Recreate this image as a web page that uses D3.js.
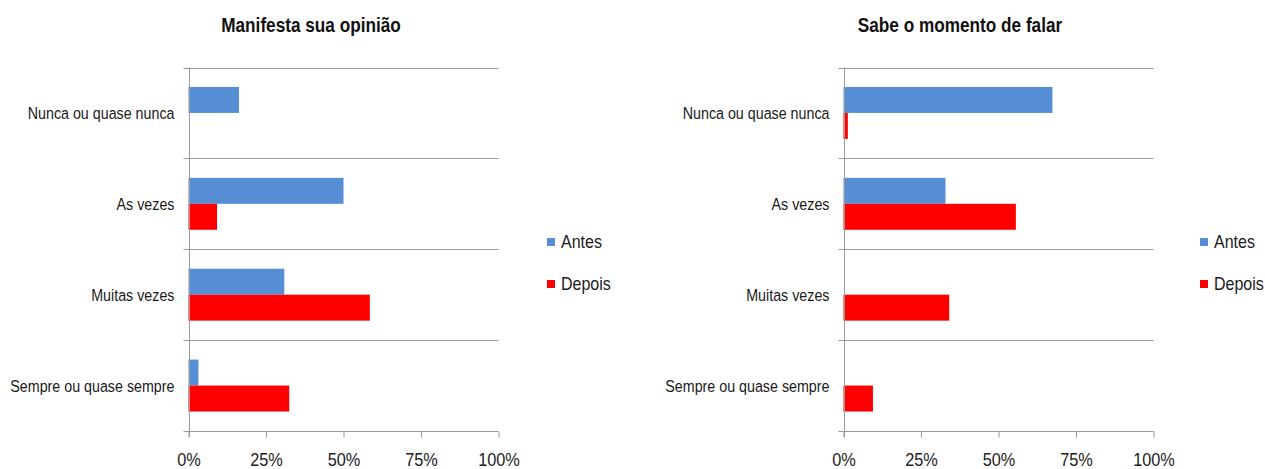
<!DOCTYPE html>
<html>
<head>
<meta charset="utf-8">
<script src="https://cdn.jsdelivr.net/npm/d3@7"></script>
<style>
  html, body { margin: 0; padding: 0; background: #fff; }
  svg { display: block; font-family: "Liberation Sans", Arial, sans-serif; }
</style>
</head>
<body>
<svg id="chart" width="1265" height="469"></svg>
<script>
// ---- data ----
const categories = ["Nunca ou quase nunca", "As vezes", "Muitas vezes", "Sempre ou quase sempre"];
const seriesNames = ["Antes", "Depois"];
const titles = ["Manifesta sua opinião", "Sabe o momento de falar"];
const opiniaoAntes  = [16.3, 50.0, 30.9, 3.2];
const opiniaoDepois = [0, 9.2, 58.5, 32.5];
const falarAntes    = [67.4, 32.9, 0, 0];
const falarDepois   = [1.4, 55.6, 34.1, 9.5];
const xTicks = [0, 25, 50, 75, 100];
const colors = ["#558ED5", "#FF0000"];

const panels = [
  { title: titles[0], values: [opiniaoAntes, opiniaoDepois], x0: 188.5, titleX: 311, legendX: 547 },
  { title: titles[1], values: [falarAntes, falarDepois], x0: 843.5, titleX: 960, legendX: 1200 }
];

const svg = d3.select("#chart");
const plotW = 310, plotTop = 67.5, plotBottom = 431;

// condensed text helper: position via transform, squeeze horizontally
function place(sel, x, y, sx) {
  sel.attr("x", 0).attr("y", 0)
     .attr("transform", (d, i) => {
       const xx = typeof x === "function" ? x(d, i) : x;
       const yy = typeof y === "function" ? y(d, i) : y;
       return `translate(${xx},${yy}) scale(${sx},1)`;
     });
  return sel;
}

panels.forEach(p => {
  const g = svg.append("g");
  const x = d3.scaleLinear().domain([0, 100]).range([p.x0, p.x0 + plotW]);
  const y = d3.scaleBand().domain(categories).range([plotTop, plotBottom]).padding(0);
  const ys = d3.scaleBand().domain(seriesNames).range([0, y.bandwidth()]).paddingInner(0).paddingOuter(0.75);

  // horizontal grid lines at category boundaries (extend left as ticks)
  const bounds = categories.map(c => y(c)).concat([plotBottom]);
  g.selectAll("line.grid").data(bounds).join("line")
    .attr("x1", p.x0 - 5).attr("x2", p.x0 + plotW)
    .attr("y1", d => Math.round(d) + 0.5).attr("y2", d => Math.round(d) + 0.5)
    .attr("stroke", "#9a9a9a").attr("stroke-width", 1);

  // bars
  seriesNames.forEach((s, si) => {
    g.selectAll("rect.s" + si).data(categories).join("rect")
      .attr("x", x(0))
      .attr("y", c => y(c) + ys(s))
      .attr("width", (c, i) => x(p.values[si][i]) - x(0))
      .attr("height", ys.bandwidth())
      .attr("fill", colors[si]);
  });

  // vertical axis line
  g.append("line")
    .attr("x1", Math.round(x(0)) + 0.5).attr("x2", Math.round(x(0)) + 0.5)
    .attr("y1", plotTop).attr("y2", plotBottom + 6)
    .attr("stroke", "#9a9a9a");

  // x axis
  const ax = g.append("g").attr("transform", `translate(0,${Math.round(plotBottom) + 0.5})`)
    .call(d3.axisBottom(x).tickValues(xTicks).tickFormat(d => d + "%").tickSize(6).tickSizeOuter(0));
  ax.select(".domain").remove();
  ax.selectAll(".tick line").attr("stroke", "#9a9a9a");
  const tt = ax.selectAll(".tick text").attr("fill", "#222").attr("font-size", 18.5)
    .attr("font-family", "Liberation Sans, Arial, sans-serif").attr("dy", 0);
  place(tt, 0, 34, 0.88);

  // category labels
  const cl = g.selectAll("text.cat").data(categories).join("text")
    .attr("dy", "0.35em")
    .attr("text-anchor", "end")
    .attr("font-size", 17)
    .attr("fill", "#1a1a1a")
    .text(c => c);
  place(cl, p.x0 - 14, c => y(c) + y.bandwidth() / 2, 0.84);

  // title
  const tl = g.append("text")
    .attr("text-anchor", "middle")
    .attr("font-size", 20).attr("font-weight", "bold").attr("fill", "#111")
    .text(p.title);
  place(tl, p.titleX, 32, 0.86);

  // legend
  const lg = g.append("g");
  seriesNames.forEach((s, si) => {
    const cy = 242 + si * 42;
    lg.append("rect").attr("x", p.legendX).attr("y", cy - 4).attr("width", 8).attr("height", 8).attr("fill", colors[si]);
    const lt = lg.append("text").attr("dy", "0.35em")
      .attr("font-size", 18).attr("fill", "#1a1a1a").text(s);
    place(lt, p.legendX + 14, cy, 0.89);
  });
});
</script>
</body>
</html>
